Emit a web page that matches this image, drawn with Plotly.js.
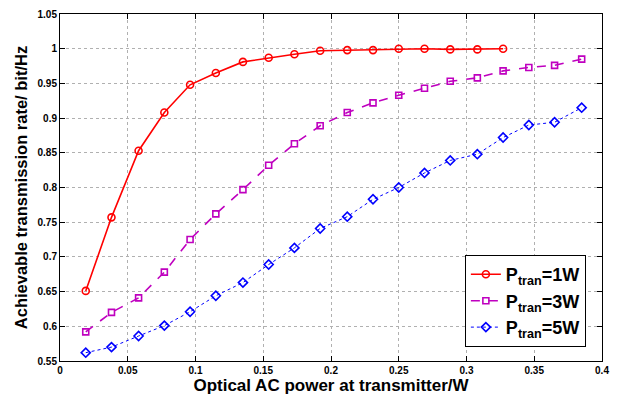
<!DOCTYPE html>
<html><head><meta charset="utf-8">
<script src="https://cdn.plot.ly/plotly-3.0.1.min.js"></script>
<style>html,body{margin:0;padding:0;background:#fff}#c{width:622px;height:396px}</style>
</head><body><div id="c"></div>
<script>
const xVals = [0.019,0.038,0.058,0.077,0.096,0.115,0.135,0.154,0.173,0.192,0.212,0.231,0.250,0.269,0.288,0.308,0.327,0.346,0.365,0.385];
const p1W = [0.651,0.757,0.853,0.908,0.948,0.965,0.981,0.987,0.992,0.997,0.998,0.998,1.000,1.000,0.999,0.999,1.000];
const p3W = [0.592,0.620,0.641,0.678,0.725,0.762,0.797,0.832,0.863,0.889,0.908,0.922,0.933,0.943,0.953,0.958,0.968,0.973,0.976,0.985];
const p5W = [0.562,0.570,0.586,0.601,0.621,0.644,0.663,0.689,0.713,0.741,0.758,0.783,0.800,0.821,0.839,0.848,0.872,0.890,0.894,0.915];
const powers = ['1W','3W','5W'];
const names = powers.map(p => 'P<sub>tran</sub>=' + p);
const xTicks = [0,0.05,0.1,0.15,0.2,0.25,0.3,0.35,0.4];
const xTickText = ['0','0.05','0.1','0.15','0.2','0.25','0.3','0.35','0.4'];
const yTicks = [0.55,0.6,0.65,0.7,0.75,0.8,0.85,0.9,0.95,1,1.05];
const yTickText = ['0.55','0.6','0.65','0.7','0.75','0.8','0.85','0.9','0.95','1','1.05'];

const traces = [
  {x: xVals.slice(0,p1W.length), y: p1W, name: names[0], legendgroup:'a', mode:'lines+markers',
   line:{color:'#ff0000', width:1.6, dash:'solid'},
   marker:{symbol:'circle-open', size:7, color:'#ff0000', line:{width:1.6}}},
  {x: xVals.slice(0,p3W.length), y: p3W, name: names[1], legendgroup:'b', mode:'lines+markers',
   line:{color:'#bf00bf', width:1.6, dash:'dash'},
   marker:{symbol:'square-open', size:6, color:'#bf00bf', line:{width:1.6}}},
  {x: xVals.slice(0,p5W.length), y: p5W, name: names[2], legendgroup:'c', mode:'lines+markers',
   line:{color:'#0000ff', width:1, dash:'dot'},
   marker:{symbol:'diamond-open', size:7, color:'#0000ff', line:{width:1.6}}}
];
const axCommon = {
  showline:true, linecolor:'#000', linewidth:1, mirror:'ticks',
  ticks:'inside', ticklen:5, tickcolor:'#000',
  showgrid:true, gridcolor:'#b0b0b0', griddash:'dot', gridwidth:1,
  zeroline:false,
  tickfont:{family:'Liberation Sans, Arial, sans-serif', size:10, color:'#000', weight:'bold'}
};
const layout = {
  width:622, height:396,
  margin:{l:60, r:20, t:14, b:35},
  paper_bgcolor:'#fff', plot_bgcolor:'#fff',
  showlegend:true,
  xaxis: Object.assign({}, axCommon, {
    range:[0,0.4], tickmode:'array', tickvals:xTicks, ticktext:xTickText,
    title:{text:'<b>Optical AC power at transmitter/W</b>', standoff:3,
      font:{family:'Liberation Sans, Arial, sans-serif', size:17, color:'#000'}}
  }),
  yaxis: Object.assign({}, axCommon, {
    range:[0.55,1.05], tickmode:'array', tickvals:yTicks, ticktext:yTickText,
    title:{text:'<b>Achievable transmission rate/ bit/Hz</b>', standoff:5,
      font:{family:'Liberation Sans, Arial, sans-serif', size:16.5, color:'#000'}}
  }),
  legend:{x:0.747, y:0.04, xanchor:'left', yanchor:'bottom',
    bgcolor:'#fff', bordercolor:'#000', borderwidth:1,
    font:{family:'Liberation Sans, Arial, sans-serif', size:18, color:'#000', weight:'bold'},
    tracegroupgap:0, itemwidth:30}
};
Plotly.newPlot('c', traces, layout, {displayModeBar:false, staticPlot:true});
</script></body></html>
